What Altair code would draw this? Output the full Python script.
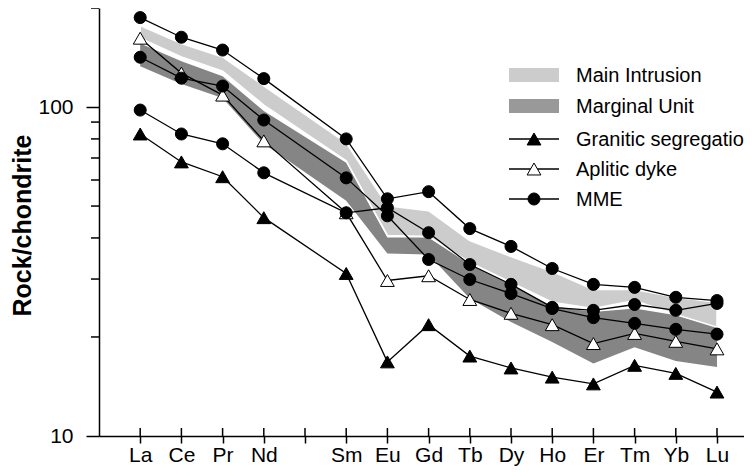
import altair as alt
import pandas as pd

# ---------------- data ----------------
elements = ["La", "Ce", "Pr", "Nd", "Sm", "Eu", "Gd", "Tb", "Dy", "Ho", "Er", "Tm", "Yb", "Lu"]
slots = [0, 1, 2, 3, 5, 6, 7, 8, 9, 10, 11, 12, 13, 14]          # Pm (slot 4) has no data
axis_labels = ["La", "Ce", "Pr", "Nd", "", "Sm", "Eu", "Gd", "Tb", "Dy", "Ho", "Er", "Tm", "Yb", "Lu"]

main_hi = [177, 156, 142, 116, 77.8, 50.1, 48.4, 39.3, 35.1, 31.6, 27.9, 27.9, 26.4, 25.5]
main_lo = [162, 142, 128.5, 101.4, 68.6, 40.7, 40.4, 33.7, 29.3, 25.5, 24.4, 25.8, 23.4, 21.4]
marg_hi = [156, 137.8, 124.1, 97.2, 67.7, 40.1, 40.1, 33.2, 28.9, 24.8, 23.8, 24.4, 23.3, 21.5]
marg_lo = [133.1, 117.4, 106.5, 77.3, 51.9, 35.9, 35.6, 26.2, 22.2, 19.3, 16.6, 18.6, 16.9, 16.2]

granitic = [82.8, 68.1, 61.4, 46.1, 31.2, 16.8, 21.8, 17.5, 16.1, 15.1, 14.4, 16.4, 15.5, 13.6]
aplitic = [161.9, 126.8, 108.7, 78.9, 47.7, 29.7, 30.7, 26.0, 23.6, 21.8, 19.1, 20.5, 19.4, 18.4]
mme_1 = [187, 163, 149, 122, 80, 52.6, 55.3, 42.7, 37.7, 32.3, 28.9, 28.3, 26.4, 25.8]
mme_2 = [141.7, 122.4, 115.8, 91.3, 60.9, 46.7, 34.4, 29.9, 27.1, 24.4, 22.9, 22.0, 21.1, 20.4]
mme_3 = [97.9, 82.8, 77.3, 63.1, 47.7, 49.4, 41.5, 33.2, 28.9, 24.6, 24.1, 25.1, 24.1, 25.3]

y_labelled = [10, 100]
y_minor = [20, 30, 40, 50, 60, 70, 80, 90, 200]

legend_labels = ["Main Intrusion", "Marginal Unit", "Granitic segregation", "Aplitic dyke", "MME"]

FONT = "Liberation Sans"
BLACK = "#000000"
LIGHT = "#cccccc"
DARK = "#858585"
DARK_KEY = "#999999"

# ---------------- tables ----------------
bands = pd.DataFrame({"slot": slots, "main_hi": main_hi, "main_lo": main_lo,
                      "marg_hi": marg_hi, "marg_lo": marg_lo})

rows = []
for name, kind, vals in [("gran", "Granitic", granitic), ("apl", "Aplitic", aplitic),
                         ("mme1", "MME", mme_1), ("mme2", "MME", mme_2), ("mme3", "MME", mme_3)]:
    for s, v in zip(slots, vals):
        rows.append({"series": name, "kind": kind, "slot": s, "value": v})
pts = pd.DataFrame(rows)

ticks_df = pd.DataFrame({"slot": list(range(len(axis_labels)))})
minor_df = pd.DataFrame({"value": y_minor})

label_expr = "[" + ",".join("'%s'" % l for l in axis_labels) + "][datum.value]"

W, H = 645, 428
xscale = alt.Scale(domain=[-1, -1 + W / 41.2], nice=False, zero=False)
yscale = alt.Scale(type="log", domain=[10, 200], nice=False)

xaxis = alt.Axis(values=list(range(len(axis_labels))), labelExpr=label_expr, title=None,
                 tickSize=7, tickWidth=1.5, tickColor=BLACK, domainColor=BLACK, domainWidth=1.5,
                 labelFont=FONT, labelFontSize=21, labelColor=BLACK, labelPadding=1,
                 labelFlush=False, labelOverlap=False, grid=False)
yaxis = alt.Axis(values=y_labelled, format="d", title="Rock/chondrite",
                 tickSize=13, tickWidth=1.5, tickColor=BLACK, domainColor=BLACK, domainWidth=1.5,
                 labelFont=FONT, labelFontSize=21, labelColor=BLACK, labelPadding=13,
                 labelFlush=False, grid=False,
                 titleFont=FONT, titleFontSize=25, titleFontWeight="bold", titleColor=BLACK,
                 titleAngle=270, titleAlign="center", titleBaseline="middle",
                 titleX=-77, titleY=217)

X = alt.X("slot:Q", scale=xscale, axis=xaxis)
Y = alt.Y("value:Q", scale=yscale, axis=yaxis)

base = alt.Chart(bands)
dark_band = base.mark_area(color=DARK, opacity=1).encode(
    x=X, y=alt.Y("marg_hi:Q", scale=yscale, axis=yaxis), y2="marg_lo:Q")
light_band = base.mark_area(color=LIGHT, opacity=1, stroke="white", strokeWidth=1.5).encode(
    x=X, y=alt.Y("main_hi:Q", scale=yscale, axis=yaxis), y2="main_lo:Q")

lines = alt.Chart(pts).mark_line(color=BLACK, strokeWidth=1.3).encode(
    x=X, y=Y, detail="series:N", order="slot:Q")

gran_pts = alt.Chart(pts[pts.kind == "Granitic"]).mark_point(
    shape="triangle-up", size=190, filled=True, fill=BLACK, stroke=BLACK, strokeWidth=1, opacity=1
).encode(x=X, y=Y)
apl_pts = alt.Chart(pts[pts.kind == "Aplitic"]).mark_point(
    shape="triangle-up", size=190, filled=True, fill="white", stroke=BLACK, strokeWidth=1, opacity=1
).encode(x=X, y=Y)
mme_pts = alt.Chart(pts[pts.kind == "MME"]).mark_point(
    shape="circle", size=145, filled=True, fill=BLACK, stroke=BLACK, strokeWidth=1, opacity=1
).encode(x=X, y=Y)

x_up_ticks = alt.Chart(ticks_df).mark_rule(color=BLACK, strokeWidth=1.5).encode(
    x=X, y=alt.value(H - 8), y2=alt.value(H))
y_minor_ticks = alt.Chart(minor_df).mark_rule(color=BLACK, strokeWidth=1.5).encode(
    y=Y, x=alt.value(-8), x2=alt.value(0))

# ---------------- legend (drawn by hand) ----------------
one = pd.DataFrame({"k": [0]})
legend_layers = []
row_y = [75, 106, 139, 169, 199]          # row centres in page pixels
sw_x0, sw_x1, sym_x, txt_x = 410, 460, 435, 477
for i, lab in enumerate(legend_labels):
    cy = row_y[i] - 8
    if i < 2:
        legend_layers.append(alt.Chart(one).mark_rect(color=LIGHT if i == 0 else DARK_KEY).encode(
            x=alt.value(sw_x0), x2=alt.value(sw_x1), y=alt.value(cy - 7), y2=alt.value(cy + 7)))
    else:
        legend_layers.append(alt.Chart(one).mark_rule(color=BLACK, strokeWidth=1.3).encode(
            x=alt.value(sw_x0), x2=alt.value(sw_x1), y=alt.value(cy)))
        shape = "circle" if i == 4 else "triangle-up"
        fill = "white" if i == 3 else BLACK
        size = 145 if i == 4 else 190
        legend_layers.append(alt.Chart(one).mark_point(
            shape=shape, size=size, filled=True, fill=fill, stroke=BLACK, strokeWidth=1, opacity=1
        ).encode(x=alt.value(sym_x), y=alt.value(cy)))
    legend_layers.append(alt.Chart(one).mark_text(
        font=FONT, fontSize=20, color=BLACK, align="left", baseline="alphabetic"
    ).encode(x=alt.value(txt_x), y=alt.value(cy + 7), text=alt.value(lab)))

chart = alt.layer(
    dark_band, light_band, lines, gran_pts, apl_pts, mme_pts, x_up_ticks, y_minor_ticks,
    *legend_layers
).properties(
    width=W, height=H,
    padding={"left": 91, "top": 0, "right": 0, "bottom": 31},
    autosize=alt.AutoSizeParams(type="none"),
    background="white",
).configure_view(stroke=None)

chart.save("out.html", embed_options={"renderer": "svg", "actions": False})
